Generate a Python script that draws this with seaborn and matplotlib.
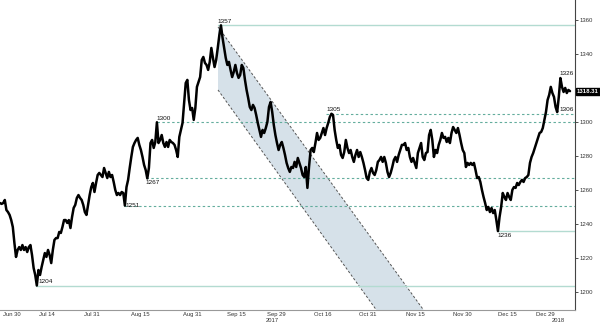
import numpy as np
import pandas as pd
import matplotlib
matplotlib.use("Agg")
import matplotlib.pyplot as plt
import matplotlib.transforms as mtransforms
import seaborn as sns

# ---- price series (gold spot, Jun 2017 - Jan 2018) ----
prices_jul = [1252.5, 1252, 1252.5, 1254.3, 1248.4, 1247.2, 1245.5, 1242.5, 1238.4, 1229,
              1220.8, 1224.9, 1226.6, 1224.9, 1227.8, 1224.9, 1226.6, 1223.7, 1226.6, 1227.8,
              1221.9, 1214.3, 1210.2, 1204, 1213.1, 1210.2, 1214.9, 1219, 1223.1, 1220.8,
              1224.9, 1221.9, 1217.2, 1224.9, 1230.8, 1231.9, 1231.9, 1235.5, 1234.9, 1238.4,
              1242.5, 1242.5, 1240.8, 1242.5, 1237.8, 1244.3, 1249.6, 1251.4, 1255.5, 1257.2,
              1255.5, 1254.3, 1251.4, 1247.2, 1245.5, 1251.4, 1257.2, 1261.9, 1264.3, 1259,
              1264.3, 1269, 1270.2, 1269]
prices_aug = [1267.8, 1273.1, 1270.2, 1267.2, 1270.8, 1267.8, 1269, 1264.9, 1260.2, 1257.2,
              1258.4, 1257.2, 1259, 1258.4, 1251, 1261.9, 1266.1, 1273.1, 1279.6, 1285.5,
              1287.8, 1289.6, 1290.8, 1286.7, 1283.7, 1279.6, 1274.9, 1271.9, 1267, 1273.1,
              1287.8, 1289.6, 1284.9, 1288.4, 1300, 1287.8, 1289.6, 1292.5, 1287.8, 1285.5,
              1288.4, 1285.5, 1289.6, 1288.4, 1287.8, 1286.7, 1283.7, 1279.6, 1291.4, 1295.5,
              1299.6, 1311.4, 1323.1, 1324.9, 1313.1, 1307.2, 1308.4, 1301.4, 1308.4, 1320.8,
              1323.7, 1326.6]
prices_sep = [1336.6, 1338.4, 1334.9, 1333.7, 1330.8, 1335.5, 1343.7, 1337.8, 1332.5, 1336.6,
              1343.7, 1351.3, 1357, 1349.6, 1343.7, 1337.8, 1333.7, 1335.5, 1330.8, 1326.6,
              1329.6, 1333.7, 1329, 1326.1, 1327.8, 1333.7, 1331.9, 1324.9, 1319, 1314.3,
              1309, 1307.2, 1310.2, 1308.4, 1304.3, 1299.6, 1295.5, 1291.4, 1295.5, 1293.7,
              1296.6, 1300.2, 1309, 1311.9, 1306.1, 1298.4, 1292.5, 1287.8, 1283.7, 1286.7,
              1288.4, 1284.9, 1280.8, 1276.1, 1273.1, 1270.8, 1273.7, 1273.1, 1276.7, 1273.7,
              1279, 1276.1, 1273.1, 1269]
prices_oct = [1267.8, 1273.7, 1261.4, 1273.7, 1283.7, 1284.9, 1282.5, 1287.8, 1293.7, 1289.6,
              1290.8, 1293.7, 1296.6, 1292.5, 1296.6, 1299.6, 1303.1, 1305, 1304.3, 1295.5,
              1289.6, 1284.9, 1286.7, 1280.8, 1279, 1282.5, 1289.6, 1284.9, 1281.9, 1283.7,
              1279.6, 1276.7, 1280.8, 1283.7, 1279.6, 1282.5, 1279.6, 1276.1, 1271.9, 1267.2,
              1266.1, 1270.8, 1273.1, 1270.2, 1269, 1271.9, 1276.7, 1277.8, 1279.6, 1276.7,
              1279.6, 1276.1, 1270.8, 1267.8, 1270.2, 1273.7, 1277.8, 1279.6, 1276.7, 1280.8,
              1283.7, 1286.7]
prices_nov = [1286.7, 1287.8, 1283.7, 1284.9, 1279.6, 1276.7, 1279, 1276.1, 1273.1, 1281.9,
              1284.9, 1287.8, 1279.6, 1277.8, 1281.9, 1282.5, 1292.5, 1295.5, 1289.6, 1279.6,
              1283.7, 1281.9, 1286.7, 1289.6, 1293.7, 1290.8, 1291.4, 1288.4, 1290.8, 1287.8,
              1293.7, 1297.2, 1295.5, 1293.7, 1296.6, 1292.5, 1287.8, 1283.7, 1281.9, 1273.7,
              1276.1, 1274.9, 1276.1, 1274.9, 1276.1, 1271.9, 1267.2, 1267.8, 1264.9, 1260.2,
              1256.1, 1252.5, 1248.4, 1250.2, 1247.2, 1249.6, 1246.6, 1248.4, 1242.5, 1236]
prices_dec = [1244.3, 1250.2, 1258.4, 1256.1, 1254.3, 1258.4, 1256.1, 1254.3, 1260.2, 1261.9,
              1261.4, 1264.3, 1263.1, 1264.9, 1266.1, 1264.9, 1267.2, 1267.8, 1269, 1276.1,
              1279.6, 1281.9, 1284.9, 1287.8, 1290.8, 1293.7, 1294.3, 1296.6, 1301.4, 1306.1,
              1313.1, 1316.1, 1320.8, 1317.2, 1314.9, 1309, 1306, 1314.9, 1326, 1320.8,
              1317.8, 1320.2, 1317.2, 1319, 1318.31]

date_labels = ["Jun 30", "Jul 14", "Jul 31", "Aug 15", "Aug 31", "Sep 15", "Sep 29",
               "Oct 16", "Oct 31", "Nov 15", "Nov 30", "Dec 15", "Dec 29"]
price_ticks = [1200, 1220, 1240, 1260, 1280, 1300, 1320, 1340, 1360]

solid_levels = [1357, 1236, 1204]
dashed_levels = [1305, 1300, 1267, 1251]
last_price = 1318.31

# ---- layout (horizontal unit = pixel column of the 600 px figure) ----
prices = prices_jul + prices_aug + prices_sep + prices_oct + prices_nov + prices_dec
n = len(prices)
X_END = 570.0
x = np.arange(n) * X_END / (n - 1)
df = pd.DataFrame({"x": x, "price": prices})

label_px = [12, 47, 92, 140, 192, 236, 276, 323, 368, 415, 462, 507, 545]
bound_px = [(a + b) / 2 for a, b in zip(label_px[:-1], label_px[1:])] + [566]
solid_start = [218, 498, 36]
dashed_start = [326, 157, 146, 124]

sns.set_style("white")
plt.rcParams["font.family"] = ["Liberation Sans", "DejaVu Sans"]

fig = plt.figure(figsize=(6.0, 3.23), dpi=100)
ax = fig.add_axes([0.0, 13 / 323, 575 / 600, 310 / 323])

YMIN, YMAX = 1189.6, 1371.9
ax.set_xlim(0, 575)
ax.set_ylim(YMIN, YMAX)

# channel (shaded falling band starting at the 1357 peak)
py = 1.7  # px per dollar
slope_up = -1.377 / py      # dollars per px column
slope_lo = -1.389 / py
x0 = 218
top0, low0 = 1356.1, 1319.0
x_top_end = x0 + (YMIN - top0) / slope_up
x_low_end = x0 + (YMIN - low0) / slope_lo
poly_x = [x0, x_top_end, x_low_end, x0]
poly_y = [top0, YMIN, YMIN, low0]
ax.fill(poly_x, poly_y, color="#d6e1e9", zorder=1, lw=0)
ax.plot([x0, x_top_end], [top0, YMIN], ls=(0, (2.5, 2)), color="#555555", lw=0.7, zorder=2)
ax.plot([x0, x_low_end], [low0, YMIN], ls=(0, (2.5, 2)), color="#555555", lw=0.7, zorder=2)

# level lines
for lv, xs in zip(solid_levels, solid_start):
    ax.plot([xs, 575], [lv, lv], color="#b3dbd1", lw=1.0, zorder=2)
for lv, xs in zip(dashed_levels, dashed_start):
    ax.plot([xs, 575], [lv, lv], color="#63ad9d", lw=0.8, ls=(0, (2.2, 2.2)), zorder=2)

# price line
sns.lineplot(data=df, x="x", y="price", color="black", lw=1.8, ax=ax, zorder=5)

# level annotations
fs = 4.6
ann = [("1357", 217, 1357.6, "left", "bottom"),
       ("1300", 156, 1300.8, "left", "bottom"),
       ("1305", 326, 1306.0, "left", "bottom"),
       ("1267", 145, 1266.0, "left", "top"),
       ("1251", 125, 1251.0, "left", "center"),
       ("1204", 38, 1204.8, "left", "bottom"),
       ("1236", 497, 1235.0, "left", "top"),
       ("1326", 559, 1327.0, "left", "bottom"),
       ("1306", 559, 1307.5, "left", "center")]
for t, xx, yy, ha, va in ann:
    ax.text(xx, yy, t, fontsize=fs, ha=ha, va=va, color="#111111", zorder=6)

# axes styling
for s in ["left", "top"]:
    ax.spines[s].set_visible(False)
ax.spines["right"].set_color("#444444")
ax.spines["right"].set_linewidth(0.8)
ax.spines["bottom"].set_color("#999999")
ax.spines["bottom"].set_linewidth(0.8)

ax.yaxis.tick_right()
ax.set_yticks(price_ticks)
# the 1320 label sits under the last-price box
ax.set_yticklabels(["" if v == 1320 else str(v) for v in price_ticks])
ax.tick_params(axis="y", direction="out", length=2.5, width=0.6, pad=1,
               labelsize=4.3, colors="#333333")

ax.set_xticks(label_px)
ax.set_xticklabels(date_labels)
ax.set_xticks(bound_px, minor=True)
ax.tick_params(axis="x", which="major", length=0, pad=1.5, labelsize=4.2, colors="#333333")
ax.tick_params(axis="x", which="minor", length=3, width=0.6, color="#999999")
ax.set_xlabel("")
ax.set_ylabel("")
ax.grid(False)

trans = mtransforms.blended_transform_factory(ax.transData, ax.transAxes)
ax.text(272, -0.034, "2017", transform=trans, fontsize=4.2, ha="center", va="center",
        color="#333333")
ax.text(558, -0.034, "2018", transform=trans, fontsize=4.2, ha="center", va="center",
        color="#333333")

# last price box
ax.text(577, last_price, f"{last_price:.2f}", fontsize=4.3, color="white", ha="left",
        va="center", fontweight="bold",
        bbox=dict(boxstyle="square,pad=0.15", fc="black", ec="black"),
        clip_on=False, zorder=7)

fig.savefig("out.png", dpi=100)
